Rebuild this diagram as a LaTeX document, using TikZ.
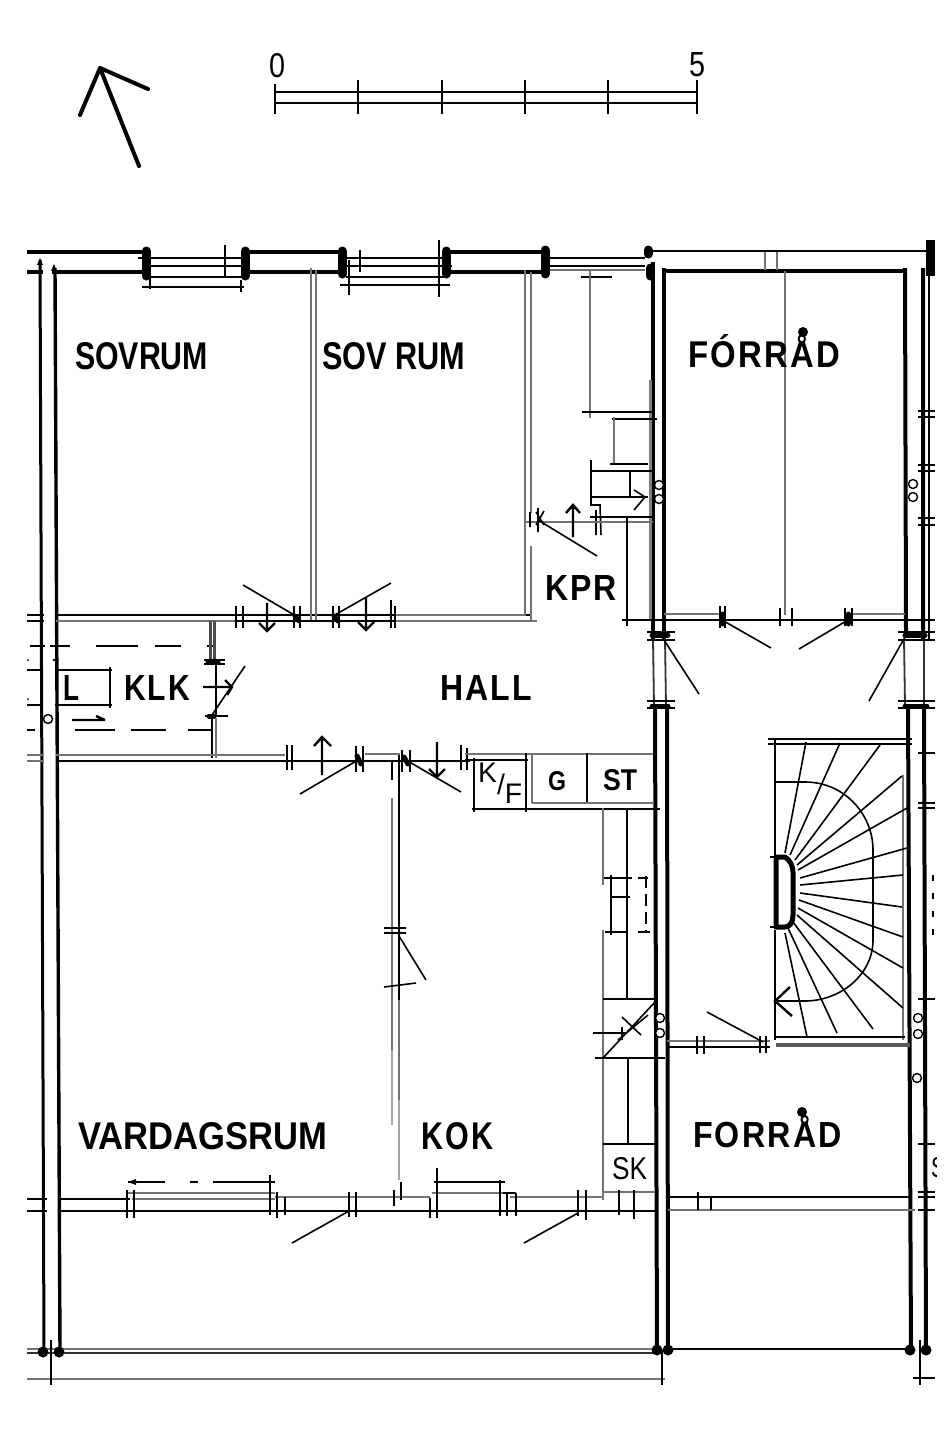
\documentclass[tikz,border=0pt]{standalone}
\usepackage{fontspec}
\setmainfont{Liberation Sans}
\newcommand{\lab}[6]{\node[anchor=south west,inner sep=0pt,outer sep=0pt] (#1) at (#2,#3) {\resizebox{#4pt}{#5pt}{#6}};}
\newcommand{\spc}{\addfontfeatures{LetterSpace=7}}
\tikzset{
 hv/.style={line width=4pt,line cap=round},
 wl/.style={line width=3.2pt},
 ln/.style={line width=1.6pt},
 gr/.style={line width=2.2pt,black!55},
 pl/.style={line width=1.8pt,black!80},
 jamb/.style={line width=9pt,line cap=round},
 blk/.style={line width=5pt,line cap=round},
 ar/.style={line width=2.4pt},
 pipe/.style={line width=1.4pt,draw=black,fill=white},
}
\begin{document}
\begin{tikzpicture}[x=1pt,y=-1pt]
\useasboundingbox (0,0) rectangle (950,1429);
\fill[white] (0,0) rectangle (950,1429);
% north arrow
\draw[line width=4pt,line cap=round,line join=round] (139,166)--(100,68) (80,115)--(100,68)--(148,89);
% scale bar
\draw[ln] (275,92)--(697,92) (275,103)--(697,103);
\draw[ln] (275,84)--(275,114) (358,80)--(358,114) (442,80)--(442,114) (525,80)--(525,114) (608,80)--(608,114) (697,80)--(697,114);
\lab{zero}{269}{78}{16}{24}{0}
\lab{five}{689}{77}{16}{24}{5}
% top wall
\draw[wl] (27,252)--(145,252) (245,252)--(343,252) (445,252)--(545,252);
\draw[line width=2.4pt] (645,251)--(932,251);
\draw[hv,line cap=butt] (27,272)--(43,272) (52,272)--(145,272) (245,272)--(343,272) (445,272)--(545,272) (664,271)--(905,271);
\draw[gr] (765,252)--(765,270) (777,252)--(777,270);
% window 1
\draw[jamb] (146,251)--(146,276) (245,251)--(245,276);
\draw[ln] (138,258)--(242,258) (146,266)--(242,266) (146,277)--(242,277) (142,287)--(244,287);
\draw[ln] (225,245)--(225,277) (150,272)--(150,289) (241,280)--(241,292);
% window 2
\draw[jamb] (342,251)--(342,274) (446,251)--(446,274);
\draw[ln] (346,258)--(446,258) (346,266)--(452,266) (346,277)--(444,277) (340,285)--(450,285);
\draw[ln] (360,250)--(360,272) (349,260)--(349,295) (439,240)--(439,297);
% window 3
\draw[jamb] (545,250)--(545,274);
\draw[ln] (550,258)--(645,258) (550,266)--(645,266);
\draw[gr] (550,270)--(645,270);
\draw[jamb] (648,250)--(648,254);
\draw[jamb] (650,268)--(650,276);
% left walls
\draw[line width=3pt] (40,260)--(44,1352);
\draw[line width=3.4pt] (55,268)--(60,1352);
\fill (40,258)--(37,265)--(43,265)--cycle (54,264)--(51,271)--(57,271)--cycle;
% central vertical walls
\draw[hv,line cap=butt] (653,262)--(653,640) (664,268)--(664,640);
\draw[line width=3pt,black!50] (650,380)--(650,620);
\draw[pl] (653,640)--(654,705) (665,640)--(666,705);
\draw[hv,line cap=butt] (655,705)--(657,1352) (667,705)--(668,1352);
% right walls
\draw[hv,line cap=butt] (905,268)--(906,632) (923,268)--(923,640);
\draw[ln] (929,268)--(929,640);
\draw[pl] (904,640)--(905,705) (924,640)--(924,705);
\draw[hv,line cap=butt] (908,708)--(911,1352) (924,708)--(926,1352);
\draw[jamb,line cap=butt] (930,240)--(930,276);
\draw[ln] (918,411)--(935,411) (918,417)--(935,417) (918,465)--(935,465) (918,471)--(935,471) (918,518)--(935,518) (918,525)--(935,525);
\draw[ln] (918,753)--(935,753) (918,803)--(935,803) (918,808)--(935,808) (918,999)--(935,999) (918,1144)--(935,1144) (918,1192)--(935,1192) (918,1197)--(935,1197) (918,1210)--(935,1210);
\draw[line width=2pt,dash pattern=on 6pt off 12pt] (933,875)--(933,935);
% cross wall upper
\draw[ln] (27,615)--(44,615) (27,621)--(44,621);
\draw[ln] (56,615)--(530,615);
\draw[gr] (56,621)--(237,621) (395,621)--(537,621);
\draw[ln] (237,621)--(395,621);
\draw[gr] (395,615)--(526,615);
% sovrum partition
\draw[gr] (311,268)--(311,620);
\draw[gr] (316,270)--(316,620);
% sovrum doors
\draw[ln] (236,606)--(236,628) (243,606)--(243,628) (294,606)--(294,628) (300,606)--(300,628) (333,606)--(333,628) (339,606)--(339,628) (391,600)--(391,628) (395,606)--(395,628);
\draw[blk] (295,616)--(299,621) (334,616)--(338,621);
\draw[ln] (296,616)--(243,585) (333,616)--(391,583);
\draw[ar] (267,603)--(267,631) (259,623)--(267,631)--(275,623);
\draw[ar] (366,598)--(366,630) (358,622)--(366,630)--(374,622);
% wall right of Sovrum 2
\draw[gr] (525,270)--(525,614);
\draw[gr] (531,272)--(531,513);
\draw[gr] (531,546)--(531,620);
% closet KPR
\draw[ln] (581,277)--(612,277);
\draw[gr] (590,270)--(590,418);
\draw[ln] (582,412)--(655,412) (612,419)--(657,419);
\draw[gr] (614,417)--(614,465);
\draw[ln] (610,464)--(648,464) (591,471)--(655,471);
\draw[ln] (591,460)--(591,497) (630,470)--(630,497);
\draw[line width=2.6pt] (590,497)--(648,497);
\draw[ln] (634,490)--(645,497)--(634,510);
\draw[ln] (591,497)--(591,505)--(600,505)--(601,535) (596,510)--(596,535);
\draw[ln] (590,517)--(655,517);
\draw[gr] (526,522)--(653,522);
\draw[ln] (530,512)--(530,527) (538,508)--(538,532) (536,512)--(544,525) (544,511)--(536,525);
\draw[ln] (538,520)--(597,556);
\draw[ar] (573,537)--(573,505) (566,513)--(573,505)--(580,513);
\draw[ln] (627,518)--(627,626) (622,620)--(660,620);
% upper Forrad
\draw[gr] (785,271)--(785,615);
\draw[ln] (625,620)--(935,620);
\draw[gr] (664,614)--(720,614) (850,614)--(905,614);
\draw[ln] (720,606)--(720,628) (725,606)--(725,628) (780,608)--(780,626) (792,608)--(792,626) (845,608)--(845,626) (852,608)--(852,626);
\draw[blk] (722,614)--(722,624) (848,614)--(848,624);
\draw[ln] (722,620)--(771,648) (848,620)--(799,649);
% hall junctions
\draw[ln] (647,632)--(675,632) (647,640)--(675,640) (647,701)--(675,701) (647,708)--(675,708) (898,632)--(935,632) (898,640)--(935,640) (898,701)--(935,701) (898,708)--(935,708);
\draw[blk] (652,635)--(668,635) (652,706)--(668,706) (905,635)--(925,635) (905,706)--(927,706);
\draw[ln] (664,640)--(699,694) (905,637)--(869,701);
% KLK
\draw[line width=2pt] (30,646)--(45,646) (50,646)--(70,646) (96,646)--(138,646) (155,646)--(181,646) (207,646)--(215,646);
\draw[line width=2pt] (27,730)--(35,730) (75,730)--(115,730) (131,730)--(166,730) (188,730)--(212,730);
\draw[ln] (27,670)--(40,670) (55,670)--(112,670) (27,705)--(40,705) (55,705)--(112,705) (110,667)--(110,708);
\draw[ar] (72,720)--(105,720) (96,716)--(105,720);
\draw[line width=3pt,black!70] (210,621)--(210,660) (214,621)--(214,660);
\draw[ln] (204,660)--(225,660) (204,664)--(225,664);
\draw[blk] (208,662)--(218,662);
\draw[ln] (216,664)--(216,715);
\draw[ln] (212,715)--(245,666);
\draw[ar] (203,687)--(232,687) (225,680)--(232,687)--(227,695);
\draw[line width=2pt] (205,716)--(228,716);
\draw[blk] (209,716)--(214,716);
\draw[ln] (212,718)--(212,758);
\draw[gr] (216,718)--(216,758);
\draw[pipe] (48,719) circle (4.5);
\fill (42,658) circle (1) (54,660) circle (1.4) (28,660) circle (1) (28,699) circle (1);
% middle cross wall
\draw[gr] (27,755)--(44,755) (27,761)--(44,761) (56,755)--(285,755) (365,754)--(400,754);
\draw[ln] (56,761)--(470,761);
\draw[ln] (287,745)--(287,770) (292,745)--(292,770) (356,746)--(356,772) (363,746)--(363,772) (461,745)--(461,770) (467,748)--(467,770);
\draw[blk] (357,756)--(361,764) (404,757)--(408,764);
\draw[ln] (402,750)--(402,772) (410,750)--(410,772);
\draw[ar] (322,775)--(322,737) (314,746)--(322,737)--(331,746);
\draw[ln] (358,760)--(300,794) (406,760)--(461,792);
\draw[ar] (437,742)--(437,777) (429,769)--(437,777)--(445,769);
\draw[ln] (392,762)--(392,780);
\draw[gr] (392,798)--(392,1050);
\draw[ln] (399,755)--(399,1000);
\draw[gr] (399,1000)--(399,1100);
\draw[line width=1.2pt,black!35] (392,1050)--(392,1125) (399,1100)--(399,1180);
% door in kitchen partition
\draw[ln] (384,928)--(406,928) (384,933)--(406,933) (384,987)--(416,983);
\draw[ln] (399,936)--(426,980);
% K/F G ST
\draw[gr] (465,754)--(653,754);
\draw[ln] (465,760)--(528,760);
\draw[ln] (474,758)--(474,812) (472,809)--(528,809) (526,753)--(526,812);
\draw[gr] (532,753)--(532,803);
\draw[ln] (587,753)--(587,803);
\draw[gr] (532,803)--(654,803);
\draw[ln] (528,809)--(660,809);
% counter
\draw[gr] (603,808)--(603,885) (603,930)--(603,1200);
\draw[ln] (627,808)--(627,1000) (628,1058)--(628,1145);
\draw[ln] (604,878)--(632,878) (611,875)--(611,935) (611,897)--(630,897) (605,932)--(627,932) (638,878)--(648,878) (638,932)--(650,932);
\draw[ln,dash pattern=on 12pt off 6pt] (646,876)--(646,932);
\draw[ln] (603,999)--(657,999) (595,1058)--(665,1058);
\draw[ln] (603,1058)--(655,1002) (622,1017)--(641,1035) (618,1040)--(648,1015) (593,1033)--(625,1033) (622,1027)--(622,1040);
\draw[ln] (603,1144)--(655,1144);
\draw[gr] (603,1192)--(655,1192);
% stairs
\draw[ln] (768,739)--(912,739) (768,744)--(912,744);
\draw[ln] (775,738)--(775,860) (775,930)--(775,1040);
\draw[gr] (903,775)--(903,1040);
\draw[ln] (776,1037)--(905,1037);
\draw[line width=3.5pt,black!65] (776,1045)--(910,1045);
\draw[ln] (785,853)--(806,742) (790,855)--(840,743) (795,860)--(880,745) (797,865)--(902,776) (798,870)--(907,808) (800,878)--(907,848) (800,885)--(903,875) (800,893)--(902,907) (799,900)--(903,937) (798,908)--(903,968) (797,915)--(903,1008) (793,922)--(873,1029) (788,928)--(837,1033) (785,933)--(807,1037);
\draw[ln] (775,782)--(805,782) .. controls (845,782) and (873,815) .. (873,850) -- (873,940) .. controls (873,975) and (840,1001) .. (805,1001) -- (775,1001);
\draw[ar] (790,987)--(775,1001)--(792,1016);
\draw[line width=5pt,line cap=round,line join=round] (776,857)--(785,857) .. controls (790,860) and (793,866) .. (793,872) -- (793,915) .. controls (793,922) and (790,927) .. (785,927) -- (776,927)--cycle;
\draw[ln] (770,857)--(780,857) (770,927)--(780,927);
% door to lower Forrad
\draw[gr] (667,1041)--(770,1041);
\draw[ln] (667,1047)--(770,1047);
\draw[ln] (697,1036)--(697,1054) (704,1036)--(704,1054) (760,1036)--(760,1053) (766,1036)--(766,1053);
\draw[ln] (763,1042)--(707,1012);
% pipes
\foreach \px/\py in {659/485,659/499,913/484,913/497,660/1018,660/1033,918/1018,918/1034,917/1078}
  \draw[pipe] (\px,\py) circle (4.5);
% lower walls
\draw[ln] (27,1199)--(47,1199) (27,1211)--(47,1211) (58,1199)--(130,1199) (58,1211)--(657,1211);
\draw[gr] (275,1197)--(430,1197) (510,1197)--(603,1197) (128,1193)--(275,1193) (432,1193)--(505,1193);
\draw[gr] (132,1199)--(275,1199);
\draw[ln] (127,1190)--(127,1218) (134,1190)--(134,1218) (270,1175)--(270,1215) (277,1192)--(277,1218) (285,1197)--(285,1215);
\draw[ln] (128,1182)--(165,1182);
\draw[ln] (190,1182)--(198,1182) (213,1182)--(275,1182);
\fill (128,1182)--(136,1179)--(136,1185)--cycle;
\draw[ln] (349,1192)--(349,1217) (356,1192)--(356,1217) (394,1190)--(394,1206) (401,1182)--(401,1200);
\draw[ln] (349,1211)--(292,1243);
\draw[ln] (430,1198)--(430,1218) (437,1168)--(437,1218) (434,1182)--(505,1182);
\draw[ln] (500,1180)--(500,1216) (507,1193)--(507,1216) (516,1193)--(516,1216) (503,1193)--(516,1193);
\draw[ln] (578,1190)--(578,1216) (586,1190)--(586,1220) (619,1190)--(619,1215) (634,1190)--(634,1219);
\draw[ln] (578,1213)--(524,1243);
\draw[line width=2pt] (668,1197)--(910,1197);
\draw[gr] (668,1210)--(915,1210);
\draw[ln] (698,1192)--(698,1210) (711,1198)--(711,1210);
% bottom
\draw[gr] (27,1349)--(657,1349);
\draw[line width=2.4pt,black!80] (27,1353)--(657,1353);
\draw[line width=2pt] (668,1349)--(910,1349);
\draw[gr] (27,1379)--(665,1379);
\draw[ln] (51,1340)--(51,1385) (662,1350)--(662,1385) (920,1340)--(920,1385) (913,1378)--(935,1378);
\foreach \bx/\by in {43/1352,59/1352,657/1350,668/1350,910/1350,926/1350}
  \fill (\bx,\by) circle (5.5);
% labels
\lab{s1}{75}{370}{133}{27}{\bfseries SOVRUM}
\lab{s2}{322}{370}{143}{27}{\bfseries SOV RUM}
\lab{f1}{688}{368}{152}{33}{\bfseries\spc FÓRRÅD}
\fill (803,332) circle (5);
\lab{kpr}{545}{600}{72}{25}{\bfseries\spc KPR}
\lab{hall}{440}{700}{92}{25}{\bfseries\spc HALL}
\lab{klk}{124}{700}{66}{25}{\bfseries\spc KLK}
\lab{l}{63}{700}{16}{25}{\bfseries L}
\lab{vard}{78}{1150}{249}{27}{\bfseries VARDAGSRUM}
\lab{kok}{421}{1150}{72}{27}{\bfseries\spc KOK}
\lab{f2}{693}{1148}{149}{32}{\bfseries\spc FORRÅD}
\fill (802,1112) circle (5);
\lab{sk}{612}{1180}{35}{22}{SK}
\lab{g}{548}{791}{18}{19}{\bfseries G}
\lab{st}{603}{791}{34}{21}{\bfseries ST}
\node[anchor=north west,inner sep=0pt] (kf) at (478,763) {\resizebox{44pt}{!}{K\raisebox{-0.42em}{/}\raisebox{-0.72em}{F}}};
\begin{scope}
\clip (929,1150) rectangle (936,1190);
\lab{sfrag}{931}{1178}{14}{20}{S}
\end{scope}
\end{tikzpicture}
\end{document}
